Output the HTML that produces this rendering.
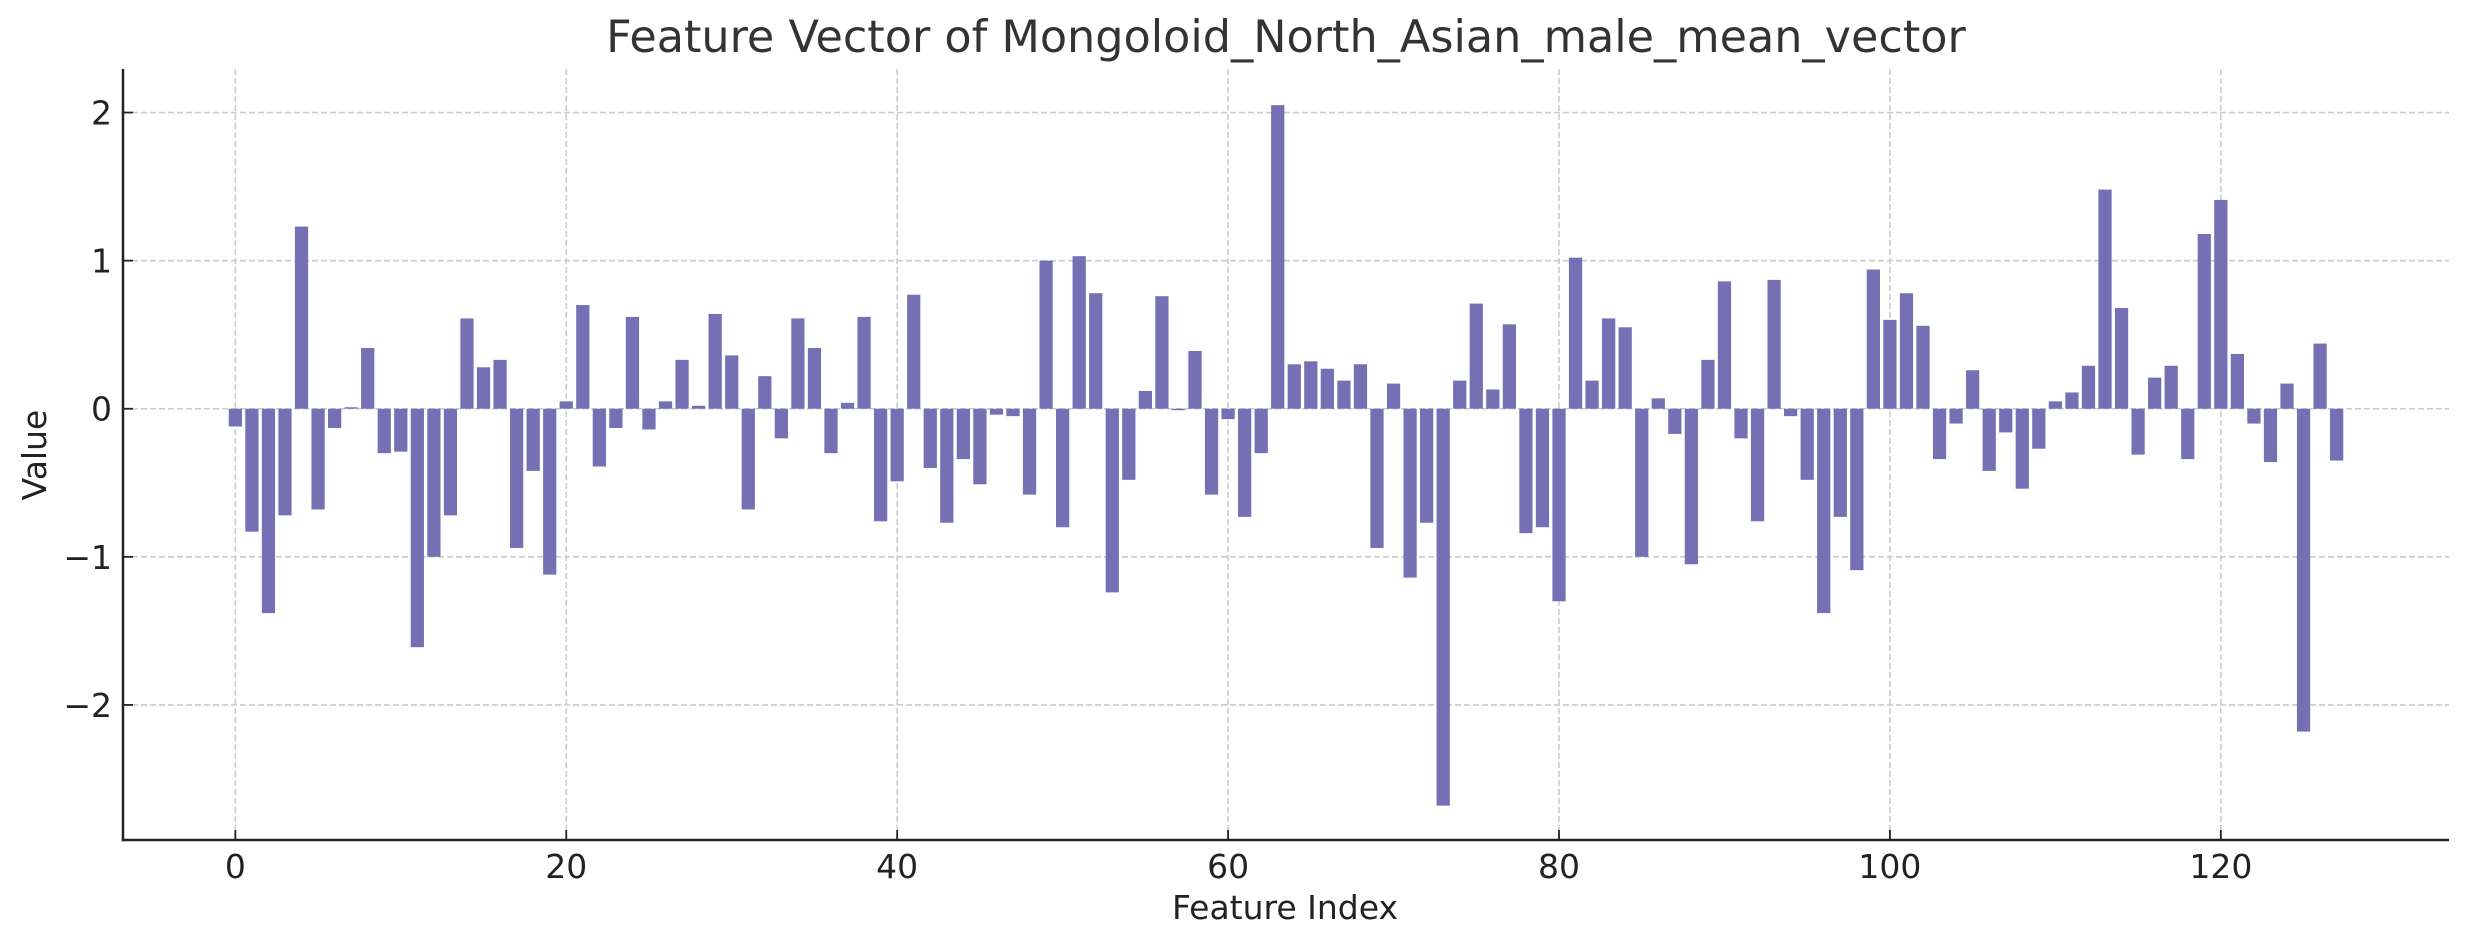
<!DOCTYPE html>
<html><head><meta charset="utf-8"><style>
html,body{margin:0;padding:0;background:#fff;}
svg{display:block;font-family:"DejaVu Sans","Liberation Sans",sans-serif;}
</style></head><body>
<svg id="chart" width="2468" height="947" viewBox="0 0 2468 947" xmlns="http://www.w3.org/2000/svg">
<text x="1286" y="52" font-size="44.5" fill="#333" text-anchor="middle">Feature Vector of Mongoloid_North_Asian_male_mean_vector</text>
<g id="grid"></g>
<g id="bars"></g>
<g id="axes"></g>
<text x="1285" y="919" font-size="33" fill="#222" text-anchor="middle">Feature Index</text>
<text x="0" y="0" font-size="33" fill="#222" text-anchor="middle" transform="translate(46,455) rotate(-90)">Value</text>
</svg>
<script>
const values = [-0.12,-0.83,-1.38,-0.72,1.23,-0.68,-0.13,0.01,0.41,-0.30,
-0.29,-1.61,-1.00,-0.72,0.61,0.28,0.33,-0.94,-0.42,-1.12,
0.05,0.70,-0.39,-0.13,0.62,-0.14,0.05,0.33,0.02,0.64,
0.36,-0.68,0.22,-0.20,0.61,0.41,-0.30,0.04,0.62,-0.76,
-0.49,0.77,-0.40,-0.77,-0.34,-0.51,-0.04,-0.05,-0.58,1.00,
-0.80,1.03,0.78,-1.24,-0.48,0.12,0.76,-0.01,0.39,-0.58,
-0.07,-0.73,-0.30,2.05,0.30,0.32,0.27,0.19,0.30,-0.94,
0.17,-1.14,-0.77,-2.68,0.19,0.71,0.13,0.57,-0.84,-0.80,
-1.30,1.02,0.19,0.61,0.55,-1.00,0.07,-0.17,-1.05,0.33,
0.86,-0.20,-0.76,0.87,-0.05,-0.48,-1.38,-0.73,-1.09,0.94,
0.60,0.78,0.56,-0.34,-0.10,0.26,-0.42,-0.16,-0.54,-0.27,
0.05,0.11,0.29,1.48,0.68,-0.31,0.21,0.29,-0.34,1.18,
1.41,0.37,-0.10,-0.36,0.17,-2.18,0.44,-0.35];
const xTicks = [0,20,40,60,80,100,120];
const yTicks = [-2,-1,0,1,2];
const yTickLabels = ["\u22122","\u22121","0","1","2"];

const L=123,R=2449,T=69,B=840;
const xMin=-0.4-0.05*(values.length-1+0.8), xMax=values.length-1+0.4+0.05*(values.length-1+0.8);
const yMin=-2.912, yMax=2.294;
const xs=v=>L+(v-xMin)/(xMax-xMin)*(R-L);
const ys=v=>B-(v-yMin)/(yMax-yMin)*(B-T);
const NS="http://www.w3.org/2000/svg";
function mk(tag,attrs,parent){const e=document.createElementNS(NS,tag);for(const k in attrs)e.setAttribute(k,attrs[k]);parent.appendChild(e);return e;}
const grid=document.getElementById('grid'),bars=document.getElementById('bars'),axes=document.getElementById('axes');
xTicks.forEach(t=>{
  const g=mk('line',{x1:xs(t),x2:xs(t),y1:T,y2:B,stroke:'#cccccc','stroke-width':1.6,'stroke-dasharray':'6,3'},grid);
  
  
});
yTicks.forEach(t=>{
  const g=mk('line',{x1:L,x2:R,y1:ys(t),y2:ys(t),stroke:'#cccccc','stroke-width':1.6,'stroke-dasharray':'6,3'},grid);
  
  
});
values.forEach((v,i)=>{
  const y0=ys(0),y1=ys(v);
  const r=mk('rect',{x:xs(i-0.4),width:xs(0.8)-xs(0),y:Math.min(y0,y1),height:Math.abs(y1-y0),fill:'#7570b3'},bars);
  
  
});
const ax1=mk('line',{x1:L,x2:L,y1:T,y2:B+1.2,stroke:'#222','stroke-width':2.5},axes);


const ax2=mk('line',{x1:L-1.2,x2:R,y1:B,y2:B,stroke:'#222','stroke-width':2.5},axes);


xTicks.forEach(t=>{
  const tk=mk('line',{x1:xs(t),x2:xs(t),y1:B,y2:B-10,stroke:'#222','stroke-width':1.8},axes);
  
  
  const tx=mk('text',{x:xs(t),y:B+38,'font-size':33,fill:'#222','text-anchor':'middle'},axes);
  tx.textContent=String(t);
  
  
});
yTicks.forEach((t,i)=>{
  const tk=mk('line',{x1:L,x2:L+10,y1:ys(t),y2:ys(t),stroke:'#222','stroke-width':1.8},axes);
  
  
  const tx=mk('text',{x:L-11,y:ys(t)+12,'font-size':33,fill:'#222','text-anchor':'end'},axes);
  tx.textContent=yTickLabels[i];
  
  
});
</script>
</body></html>
